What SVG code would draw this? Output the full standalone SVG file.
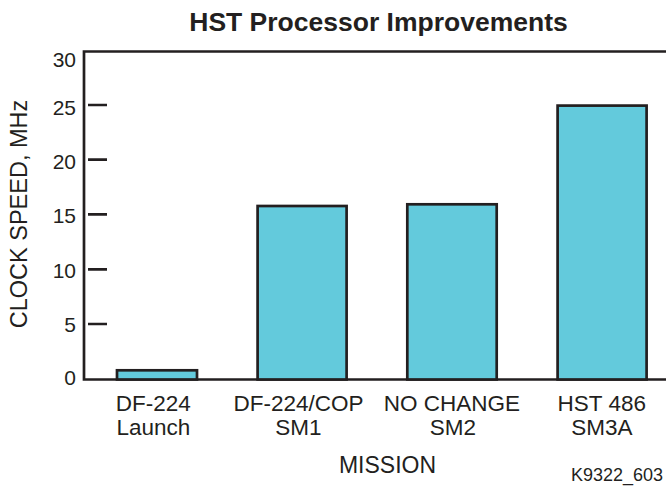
<svg xmlns="http://www.w3.org/2000/svg" width="666" height="487" viewBox="0 0 666 487">
<style>
text{font-family:"Liberation Sans",Arial,sans-serif;fill:#231f20}
.t{font-size:21px;text-anchor:end}
.c{font-size:22.5px;text-anchor:middle}
.ax{stroke:#231f20;stroke-width:2.7;fill:none}
.bar{fill:#63cadc;stroke:#231f20;stroke-width:2.7}
</style>
<rect width="666" height="487" fill="#fff"/>
<text x="378.5" y="30.5" font-size="26.5" font-weight="bold" text-anchor="middle">HST Processor Improvements</text>
<g id="axes">
<path class="ax" d="M666 51.5H84V379.5H666"/>
<path class="ax" d="M88 105H107M88 159.7H107M88 214.3H107M88 269.3H107M88 324H107"/>
<text class="t" x="76" y="66.5">30</text>
<text class="t" x="76" y="115">25</text>
<text class="t" x="76" y="168.5">20</text>
<text class="t" x="76" y="222.7">15</text>
<text class="t" x="76" y="277.7">10</text>
<text class="t" x="76" y="332">5</text>
<text class="t" x="76" y="385">0</text>
<text x="26.5" y="214" font-size="23.5" text-anchor="middle" transform="rotate(-90 26.5 214)">CLOCK SPEED, MHz</text>
<text x="387.5" y="473.3" font-size="23" text-anchor="middle">MISSION</text>
</g>
<g id="bar1"><rect class="bar" x="117" y="370.3" width="80" height="9.2"/>
<text class="c" x="153.3" y="411">DF-224</text><text class="c" x="153.3" y="435">Launch</text></g>
<g id="bar2"><rect class="bar" x="257.6" y="206" width="89" height="173.5"/>
<text class="c" x="298.5" y="411">DF-224/COP</text><text class="c" x="298.5" y="435">SM1</text></g>
<g id="bar3"><rect class="bar" x="407.3" y="204.3" width="89.4" height="175.2"/>
<text class="c" x="452" y="411">NO CHANGE</text><text class="c" x="452.8" y="435">SM2</text></g>
<g id="bar4"><rect class="bar" x="557.6" y="105.6" width="89" height="273.9"/>
<text class="c" x="601.8" y="411">HST 486</text><text class="c" x="601.8" y="435">SM3A</text></g>
<text x="663" y="481" font-size="18" text-anchor="end">K9322_603</text>
</svg>
